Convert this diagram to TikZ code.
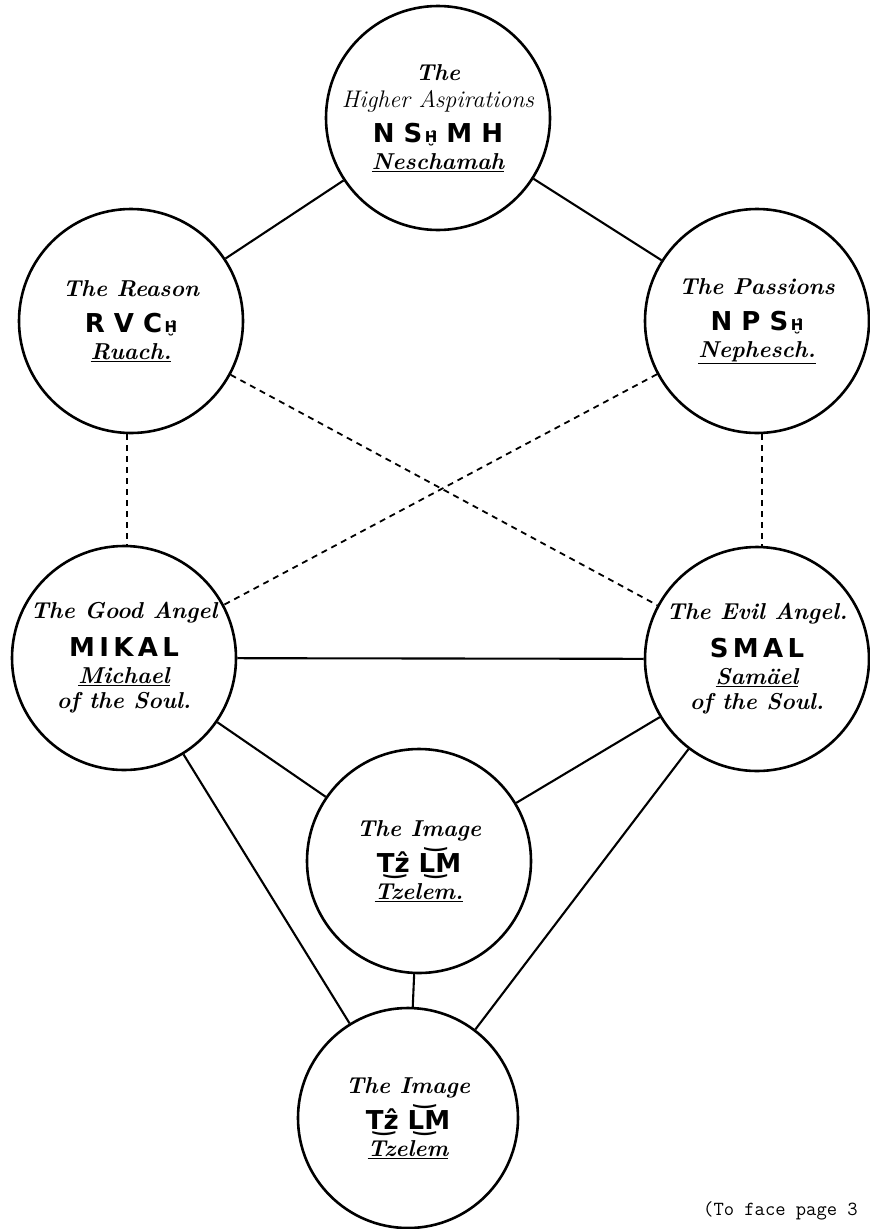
\documentclass[tikz,border=0pt]{standalone}
\usepackage{fontspec}
\usepackage{tikz}
\usetikzlibrary{positioning}

\newfontfamily\hebfont{DejaVu Sans}
\newcommand{\translit}[1]{{\normalfont\hebfont\bfseries\fontsize{26}{27}\selectfont #1}}
\newcommand{\arcH}{{\fontsize{15}{15}\selectfont\,H^^^^0311^^^^032e}}

\begin{document}
\begin{tikzpicture}[
        x=1pt, y=-1pt,
        soul/.style={circle, draw, line width=2.6pt, minimum size=224pt, inner sep=0pt, align=center,
                     font=\bfseries\itshape\fontsize{23}{27}\selectfont},
        link/.style={line width=2.1pt},
        hidden/.style={line width=1.8pt, dash pattern=on 6pt off 5pt}
    ]
        \useasboundingbox (0,0) rectangle (870,1229);

        % --- the seven circles ---
        \node[soul] (neschamah) at (438,118) {The\\{\mdseries\fontsize{24}{27}\selectfont Higher Aspirations}\\[8pt]\translit{N S\arcH\ M H}\\\underline{Neschamah}};
        \node[soul] (ruach) at (131,321) {The Reason\\[9pt]\translit{R V C\arcH}\\\underline{Ruach.}};
        \node[soul] (nephesch) at (757,321) {The Passions\\[9pt]\translit{N P S\arcH}\\\underline{Nephesch.}};
        \node[soul] (michael) at (124,658) {The Good Angel\\[11pt]\translit{M\,I\,K\,A\,L}\\\underline{Michael}\\[-2pt]of the Soul.};
        \node[soul] (samael) at (757,659) {The Evil Angel.\\[11pt]\translit{S\,M\,A\,L}\\\underline{Sam\"ael}\\[-2pt]of the Soul.};
        \node[soul] (tzelem) at (419,861) {The Image\\[6pt]\translit{T^^^^035cz^^^^0302 L^^^^035d^^^^035cM}\\\underline{Tzelem.}};
        \node[soul, minimum size=220pt] (tzelemlow) at (408,1118) {The Image\\[6pt]\translit{T^^^^035cz^^^^0302 L^^^^035d^^^^035cM}\\\underline{Tzelem}};

        % --- solid links ---
        \draw[link] (neschamah) -- (ruach);
        \draw[link] (neschamah) -- (nephesch);
        \draw[link] (michael) -- (samael);
        \draw[link] (michael) -- (tzelem);
        \draw[link] (samael) -- (tzelem);
        \draw[link] (michael) -- (tzelemlow);
        \draw[link] (samael) -- (tzelemlow);
        \draw[link] (tzelem) -- (tzelemlow);

        % --- dashed links ---
        \path (ruach.south) ++(-4,0) coordinate (rs) (michael.north) ++(3,0) coordinate (mn);
        \draw[hidden] (rs) -- (mn);
        \path (nephesch.south) ++(5,0) coordinate (ns) (samael.north) ++(5,0) coordinate (sn);
        \draw[hidden] (ns) -- (sn);
        \draw[hidden] (ruach) -- (samael);
        \draw[hidden] (nephesch) -- (michael);

        % page note
        \node[anchor=base west, inner sep=0pt, font=\ttfamily\fontsize{20}{22}\selectfont] (note) at (703,1215) {(To face page 3};
    \end{tikzpicture}
\end{document}
